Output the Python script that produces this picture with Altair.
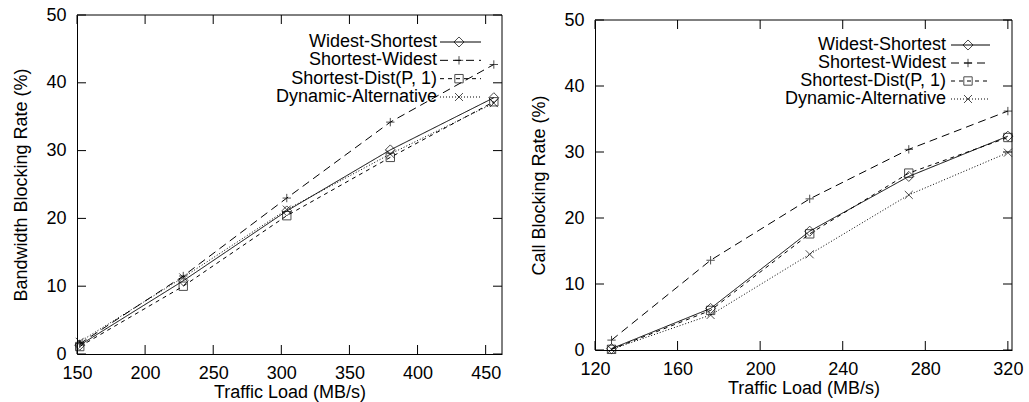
import altair as alt
import pandas as pd

# ---------------- data ----------------
series = ["Widest-Shortest", "Shortest-Widest", "Shortest-Dist(P, 1)", "Dynamic-Alternative"]

load_bw = [152, 228, 304, 380, 456]
bw_ws = [1.3, 10.8, 21.1, 30.1, 37.8]
bw_sw = [1.5, 11.5, 23.0, 34.2, 42.7]
bw_sd = [1.1, 10.0, 20.4, 29.0, 37.2]
bw_da = [1.8, 11.3, 21.3, 29.5, 37.0]

load_call = [128, 176, 224, 272, 320]
call_ws = [0.2, 6.3, 18.0, 26.3, 32.4]
call_sw = [1.5, 13.6, 22.9, 30.4, 36.2]
call_sd = [0.1, 6.0, 17.6, 26.8, 32.2]
call_da = [0.1, 5.3, 14.5, 23.5, 29.9]

bw_xticks = [150, 200, 250, 300, 350, 400, 450]
call_xticks = [120, 160, 200, 240, 280, 320]
yticks = [0, 10, 20, 30, 40, 50]

FONT = "Liberation Sans"
TICK = 9
MSIZE = 70

diamond_path = "M0,-1.2L1.2,0L0,1.2L-1.2,0Z"
plus_path = "M-1,0L1,0M0,-1L0,1"
x_path = "M-0.95,-0.95L0.95,0.95M-0.95,0.95L0.95,-0.95"
shape_scale = alt.Scale(domain=series, range=[diamond_path, plus_path, "square", x_path])
dash_scale = alt.Scale(domain=series, range=[[1, 0], [8, 5], [4, 4], [1, 2]])


def long_df(load, cols):
    rows = []
    for s, vals in zip(series, cols):
        for x, y in zip(load, vals):
            rows.append({"load": x, "rate": y, "series": s})
    return pd.DataFrame(rows)


def panel(load, cols, xdom, xticks, W, H, top, ytitle, leg):
    """top = pixel offset of the plot frame inside the view (frame drawn from top to H)."""
    df = long_df(load, cols)
    xs = alt.Scale(domain=xdom, nice=False, zero=False)
    ys = alt.Scale(domain=[0, 50], nice=False, range=[H, top])
    xaxis = alt.Axis(values=xticks, title="Traffic Load (MB/s)", ticks=False, grid=False,
                     labelFlush=False, labelPadding=10, titlePadding=1, format="d")
    yaxis = alt.Axis(values=yticks, title=ytitle, ticks=False, grid=False,
                     labelFlush=False, labelPadding=11, titlePadding=15)

    lines = alt.Chart(df).mark_line(color="black", strokeWidth=1).encode(
        x=alt.X("load:Q", scale=xs, axis=xaxis),
        y=alt.Y("rate:Q", scale=ys, axis=yaxis),
        strokeDash=alt.StrokeDash("series:N", scale=dash_scale, legend=None),
        detail="series:N",
    )
    pts = alt.Chart(df).mark_point(color="black", filled=False, strokeWidth=1, size=MSIZE).encode(
        x=alt.X("load:Q", scale=xs),
        y=alt.Y("rate:Q", scale=ys, axis=None),
        shape=alt.Shape("series:N", scale=shape_scale, legend=None),
    )

    # frame: top and right edges (left/bottom are the axis domains)
    one = pd.DataFrame({"a": [0]})
    ftop = alt.Chart(one).mark_rule(color="black").encode(
        x=alt.value(0), x2=alt.value(W), y=alt.Y(datum=50, scale=ys, axis=None))
    fright = alt.Chart(one).mark_rule(color="black").encode(
        x=alt.value(W), y=alt.Y(datum=0, scale=ys, axis=None), y2=alt.datum(50))

    # inward ticks on all four sides
    xt = pd.DataFrame({"t": xticks})
    yt = pd.DataFrame({"t": yticks})
    tb = alt.Chart(xt).mark_rule(color="black").encode(
        x=alt.X("t:Q", scale=xs), y=alt.value(H), y2=alt.value(H - TICK))
    tt = alt.Chart(xt).mark_rule(color="black").encode(
        x=alt.X("t:Q", scale=xs), y=alt.value(top), y2=alt.value(top + TICK))
    tl = alt.Chart(yt).mark_rule(color="black").encode(
        y=alt.Y("t:Q", scale=ys, axis=None), x=alt.value(0), x2=alt.value(TICK))
    tr = alt.Chart(yt).mark_rule(color="black").encode(
        y=alt.Y("t:Q", scale=ys, axis=None), x=alt.value(W), x2=alt.value(W - TICK))

    # legend (label on the left, line sample + marker on the right)
    ldf = pd.DataFrame({"series": series})
    ly = alt.Y("series:N", axis=None,
               scale=alt.Scale(type="point", domain=series, range=leg["rows"], padding=0))
    ltxt = alt.Chart(ldf).mark_text(align="right", baseline="middle", font=FONT, fontSize=18,
                                    color="black").encode(
        x=alt.value(leg["text"]), y=ly, text="series:N")
    lrule = alt.Chart(ldf).mark_rule(color="black", strokeWidth=1).encode(
        x=alt.value(leg["l0"]), x2=alt.value(leg["l1"]), y=ly,
        strokeDash=alt.StrokeDash("series:N", scale=dash_scale, legend=None))
    lpt = alt.Chart(ldf).mark_point(color="black", filled=False, strokeWidth=1, size=MSIZE).encode(
        x=alt.value(leg["m"]), y=ly,
        shape=alt.Shape("series:N", scale=shape_scale, legend=None))

    layers = [lines, pts, ftop, fright, tb, tt, tl, tr, ltxt, lrule, lpt]
    return alt.layer(*layers).resolve_scale(y="independent").properties(
        width=W, height=H, view=alt.ViewBackground(stroke="transparent"))


left = panel(load_bw, [bw_ws, bw_sw, bw_sd, bw_da], [150, 462], bw_xticks, 425, 339, 0,
             "Bandwidth Blocking Rate (%)",
             {"rows": [27, 82], "text": 360, "l0": 363, "l1": 404, "m": 382})
right = panel(load_call, [call_ws, call_sw, call_sd, call_da], [120, 322], call_xticks, 417, 335, 5,
              "Call Blocking Rate (%)",
              {"rows": [30, 84], "text": 351, "l0": 356, "l1": 395, "m": 373})

chart = alt.concat(left, right, columns=2, spacing=27, align="none").properties(
    padding={"left": 12, "top": 5, "right": 0, "bottom": 0},
    background="white",
).configure_axis(
    domainColor="black", labelColor="black", titleColor="black",
    labelFont=FONT, titleFont=FONT, labelFontSize=18, titleFontSize=18,
    titleFontWeight="normal",
)

chart.save("out.html", embed_options={"renderer": "svg", "actions": False})
